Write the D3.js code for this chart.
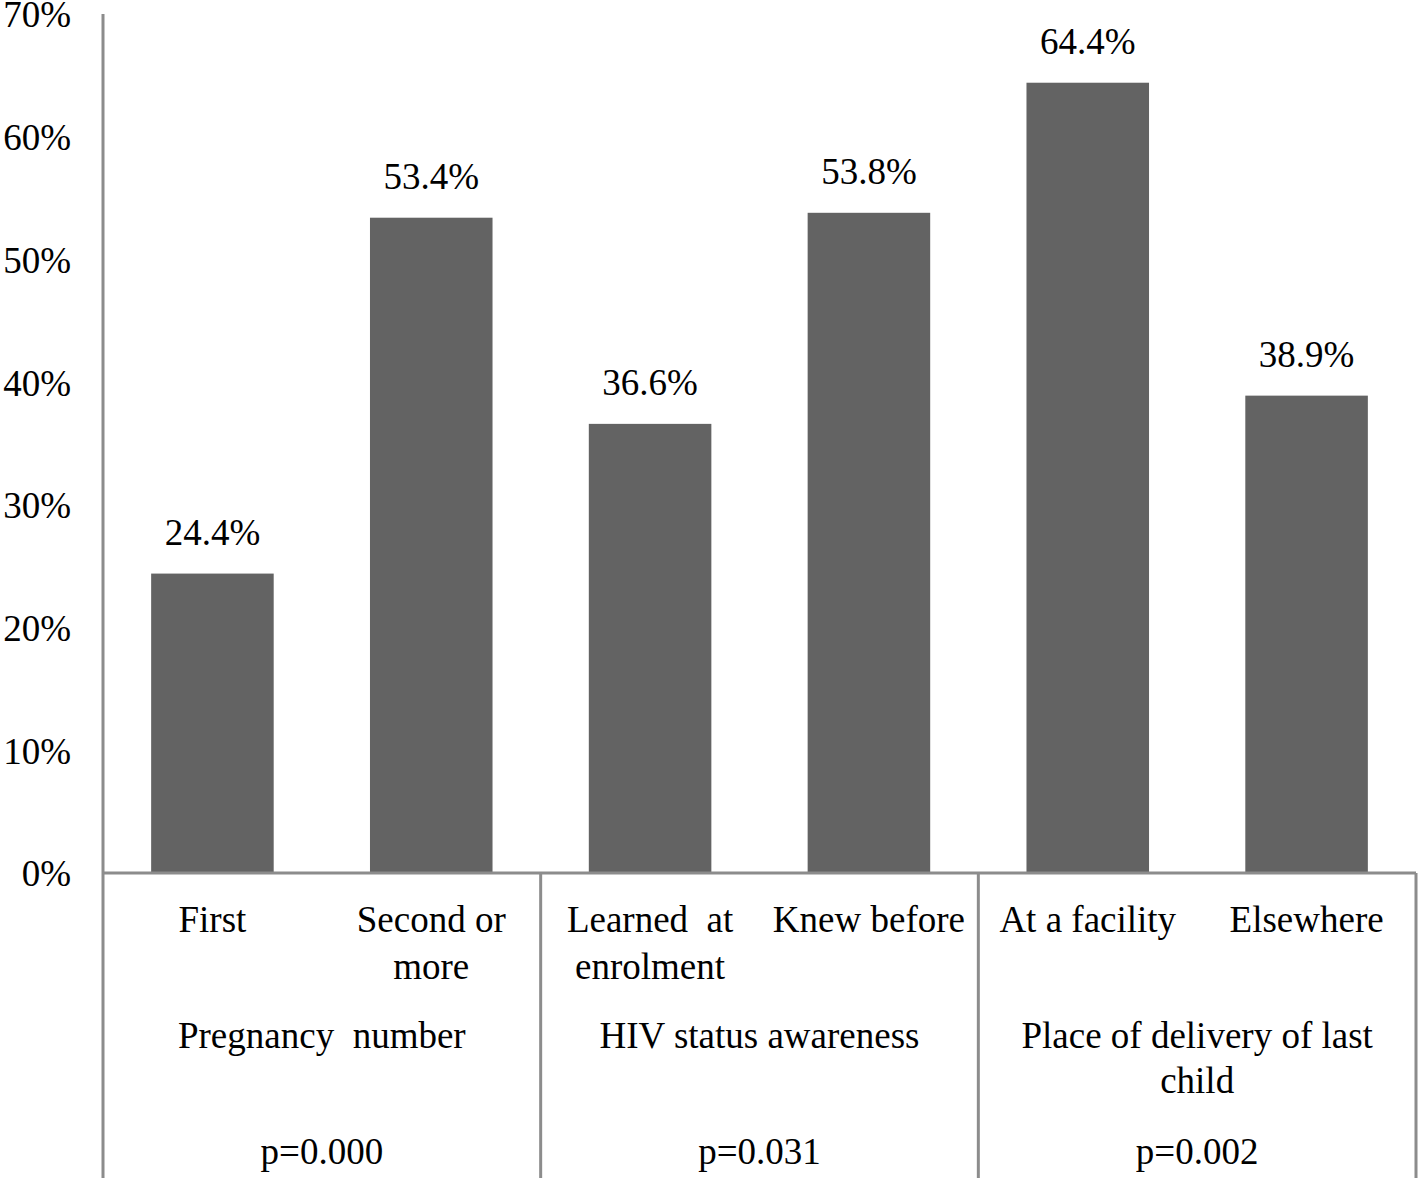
<!DOCTYPE html>
<html><head><meta charset="utf-8">
<script src="https://cdn.jsdelivr.net/npm/d3@7"></script>
<style>body{margin:0;background:#fff}svg{display:block}text{font-family:"Liberation Serif","Times New Roman",serif;fill:#000}</style>
</head><body>
<svg id="c" width="1420" height="1178"></svg>
<script>
const categories = [["First"],["Second or","more"],["Learned  at","enrolment"],["Knew before"],["At a facility"],["Elsewhere"]];
const values = [24.4, 53.4, 36.6, 53.8, 64.4, 38.9];
const valueLabels = ["24.4%","53.4%","36.6%","53.8%","64.4%","38.9%"];
const groups = [["Pregnancy  number"],["HIV status awareness"],["Place of delivery of last","child"]];
const pValues = ["p=0.000","p=0.031","p=0.002"];
const yTicks = [0,10,20,30,40,50,60,70];

(function(){
const svg = d3.select("#c");
const pl = 103, pr = 1416, pt = 14, pb = 873;
const fs = 37;
const x = d3.scaleBand().domain(d3.range(categories.length)).range([pl, pr]).paddingInner(0.44).paddingOuter(0.22);
const xg = d3.scaleBand().domain(d3.range(groups.length)).range([pl, pr]);
const y = d3.scaleLinear().domain([0,70]).range([pb, pt]);
const axisColor = "#8c8c8c";

svg.selectAll("rect.bar").data(values).join("rect")
  .attr("x",(d,i)=>x(i)).attr("width",x.bandwidth())
  .attr("y",d=>y(d)).attr("height",d=>y(0)-y(d)).attr("fill","#636363");

svg.selectAll("text.val").data(values).join("text")
  .attr("x",(d,i)=>x(i)+x.bandwidth()/2).attr("y",d=>y(d)-29)
  .attr("text-anchor","middle").attr("font-size",fs).text((d,i)=>valueLabels[i]);

const yAxis = d3.axisLeft(y).tickValues(yTicks).tickSize(0).tickPadding(32).tickFormat(d=>d+"%");
const ga = svg.append("g").attr("transform",`translate(${pl},0)`).call(yAxis);
ga.select(".domain").remove();
ga.selectAll("text").attr("font-size",fs).attr("font-family","Liberation Serif").attr("fill","#000").attr("dy","0.35em");

svg.append("line").attr("x1",pl).attr("x2",pl).attr("y1",pt).attr("y2",1178).attr("stroke",axisColor).attr("stroke-width",3);
svg.append("line").attr("x1",pl).attr("x2",pr).attr("y1",pb).attr("y2",pb).attr("stroke",axisColor).attr("stroke-width",3);
svg.selectAll("line.sep").data(d3.range(1,groups.length+1)).join("line")
  .attr("x1",d=>xg(d-1)+xg.bandwidth()).attr("x2",d=>xg(d-1)+xg.bandwidth())
  .attr("y1",pb).attr("y2",1178).attr("stroke",axisColor).attr("stroke-width",3);

categories.forEach((lines,i)=>{
  lines.forEach((l,j)=>{
    svg.append("text").attr("x",x(i)+x.bandwidth()/2).attr("y",932+j*47)
      .attr("text-anchor","middle").attr("font-size",fs).style("white-space","pre").text(l);
  });
});
groups.forEach((lines,i)=>{
  lines.forEach((l,j)=>{
    svg.append("text").attr("x",xg(i)+xg.bandwidth()/2).attr("y",1048+j*45)
      .attr("text-anchor","middle").attr("font-size",fs).style("white-space","pre").text(l);
  });
  svg.append("text").attr("x",xg(i)+xg.bandwidth()/2).attr("y",1164)
    .attr("text-anchor","middle").attr("font-size",fs).text(pValues[i]);
});
})();
</script>
</body></html>
